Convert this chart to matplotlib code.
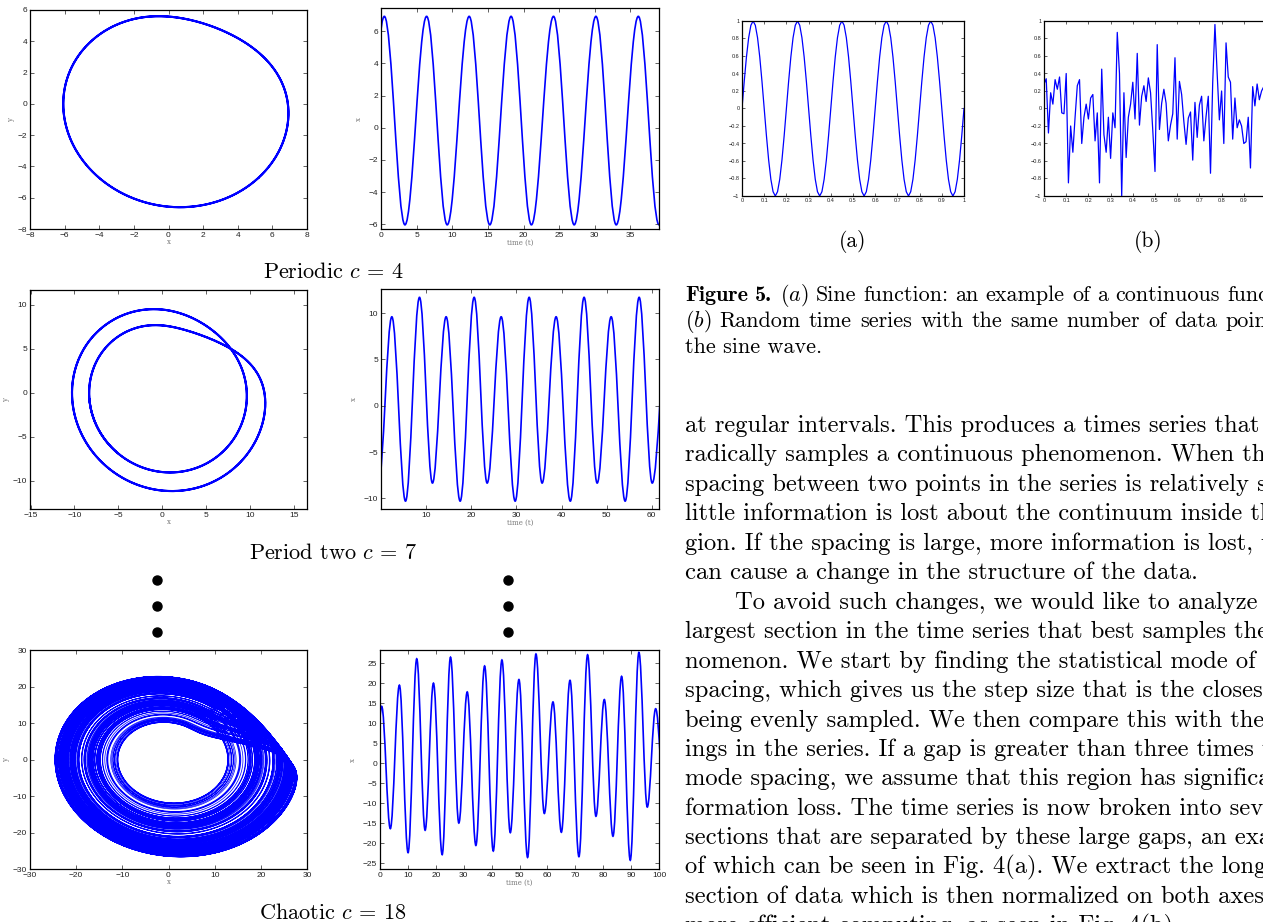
import numpy as np
import matplotlib
matplotlib.use("Agg")
import matplotlib.pyplot as plt
from matplotlib.path import Path
from matplotlib.patches import PathPatch

# ------------------------------------------------------------------ data
ROSSLER_A = 0.1
ROSSLER_B = 0.1
C_VALUES = [4, 7, 18]                 # periodic, period two, chaotic
PHASE_RECORD_T = [12.0, 25.0, 900.0]   # length of trajectory shown in xy plots

# time-series extrema (time, x)
ts1_t = [-2.5, 0.47, 3.36, 6.4, 9.29, 12.37, 15.26, 18.25, 21.1, 24.2, 27.1,
         30.15, 33.0, 36.1, 39.0, 42.0]
ts1_x = [-6.04, 6.93, -6.04, 6.93, -6.04, 6.93, -6.04, 6.93, -6.04, 6.93,
         -6.04, 6.93, -6.04, 6.93, -6.04, 6.93]

ts2_t = [-0.55, 2.4, 5.43, 8.53, 11.4, 14.43, 17.54, 20.64, 23.52, 26.63, 29.73,
         32.83, 35.7, 38.8, 41.95, 45.0, 47.9, 51.0, 54.1, 57.2, 60.1, 63.6]
ts2_x = [-8.35, 9.6, -10.3, 11.7, -8.35, 9.6, -10.3, 11.7, -8.35, 9.6, -10.3,
         11.7, -8.35, 9.6, -10.3, 11.7, -8.35, 9.6, -10.3, 11.7, -8.35, 9.6]

ts3_t = [-2.4, 0.6, 3.7, 6.95, 10.06, 13.17, 16.17, 19.16, 22.28, 25.27, 28.26,
         31.26, 34.37, 37.49, 40.6, 43.7, 46.7, 49.8, 52.9, 55.9, 58.9, 62.0,
         65.0, 68.1, 71.3, 74.4, 77.4, 80.4, 83.5, 86.6, 89.7, 92.8, 95.8, 98.8,
         102.2]
ts3_x = [-14.0, 14.2, -16.4, 19.5, -22.4, 26.1, -16.8, 20.0, -22.9, 26.5, -15.0,
         17.8, -20.6, 24.3, -22.0, 25.8, -17.4, 20.9, -23.6, 27.3, -12.6, 15.3,
         -17.3, 20.7, -23.4, 27.1, -13.3, 15.9, -18.3, 21.7, -24.3, 27.7, -11.0,
         13.6, -12.0]

# Figure 5 panels: 101 samples on [0, 1]
sample_x = [i / 100 for i in range(101)]
sine_y = [0.0, 0.309, 0.588, 0.809, 0.951, 1.0, 0.951, 0.809, 0.588, 0.309,
          0.0, -0.309, -0.588, -0.809, -0.951, -1.0, -0.951, -0.809, -0.588, -0.309,
          0.0, 0.309, 0.588, 0.809, 0.951, 1.0, 0.951, 0.809, 0.588, 0.309,
          0.0, -0.309, -0.588, -0.809, -0.951, -1.0, -0.951, -0.809, -0.588, -0.309,
          0.0, 0.309, 0.588, 0.809, 0.951, 1.0, 0.951, 0.809, 0.588, 0.309,
          0.0, -0.309, -0.588, -0.809, -0.951, -1.0, -0.951, -0.809, -0.588, -0.309,
          0.0, 0.309, 0.588, 0.809, 0.951, 1.0, 0.951, 0.809, 0.588, 0.309,
          0.0, -0.309, -0.588, -0.809, -0.951, -1.0, -0.951, -0.809, -0.588, -0.309,
          0.0, 0.309, 0.588, 0.809, 0.951, 1.0, 0.951, 0.809, 0.588, 0.309,
          0.0, -0.309, -0.588, -0.809, -0.951, -1.0, -0.951, -0.809, -0.588, -0.309,
          0.0]
random_y = [0.28, 0.34, -0.28, 0.18, 0.05, 0.33, 0.22, 0.36, -0.05, -0.06,
            0.40, -0.85, -0.20, -0.50, -0.10, 0.26, 0.33, -0.40, -0.10, 0.05,
            -0.12, 0.12, 0.16, -0.37, -0.05, -0.85, 0.45, -0.30, -0.50, -0.10,
            -0.57, -0.05, -0.22, 0.87, 0.40, -1.00, 0.18, -0.56, -0.10, 0.05,
            0.30, -0.12, 0.63, -0.19, 0.14, 0.26, 0.08, 0.35, 0.18, -0.25,
            -0.72, 0.73, -0.24, 0.06, 0.22, 0.06, -0.37, -0.19, -0.06, 0.58,
            -0.35, 0.31, 0.16, -0.15, -0.41, -0.11, -0.04, -0.59, 0.07, -0.33,
            0.04, 0.14, -0.37, -0.09, 0.14, -0.74, 0.30, 0.96, 0.40, -0.13,
            0.20, -0.40, 0.75, 0.36, 0.30, -0.35, 0.12, -0.22, -0.13, -0.20,
            -0.40, -0.38, -0.10, -0.68, 0.25, 0.03, 0.28, 0.10, 0.20, 0.25,
            0.05]

row_titles = [r"Periodic $c$ = 4", r"Period two $c$ = 7", r"Chaotic $c$ = 18"]

caption_lines = [
    "Figure 5. $(a)$ Sine function: an example of a continuous function.",
    "$(b)$ Random time series with the same number of data points as",
    "the sine wave.",
]
caption_justify = [True, True, False]
body_lines = [
    "at regular intervals. This produces a times series that",
    "radically samples a continuous phenomenon. When the",
    "spacing between two points in the series is relatively small,",
    "little information is lost about the continuum inside that re-",
    "gion. If the spacing is large, more information is lost, which",
    "can cause a change in the structure of the data.",
    "To avoid such changes, we would like to analyze the",
    "largest section in the time series that best samples the phe-",
    "nomenon. We start by finding the statistical mode of the",
    "spacing, which gives us the step size that is the closest to",
    "being evenly sampled. We then compare this with the spac-",
    "ings in the series. If a gap is greater than three times the",
    "mode spacing, we assume that this region has significant in-",
    "formation loss. The time series is now broken into several",
    "sections that are separated by these large gaps, an example",
    "of which can be seen in Fig. 4(a). We extract the longest",
    "section of data which is then normalized on both axes for",
    "more efficient computing, as seen in Fig. 4(b).",
]

# ------------------------------------------------------------------ helpers
W, H = 1263, 922
plt.rcParams["mathtext.fontset"] = "cm"
BLUE = "#0000ff"
TICKFONT = "Liberation Sans"


def rossler_xy(c, t_keep, t_skip=300.0, dt=0.005):
    a, b = ROSSLER_A, ROSSLER_B
    x, y, z = 1.0, 1.0, 0.0

    def f(x, y, z):
        return (-y - z, x + a * y, b + z * (x - c))

    n_skip = int(t_skip / dt)
    n_keep = int(t_keep / dt)
    xs, ys = [], []
    h = dt
    for i in range(n_skip + n_keep):
        k1 = f(x, y, z)
        k2 = f(x + h / 2 * k1[0], y + h / 2 * k1[1], z + h / 2 * k1[2])
        k3 = f(x + h / 2 * k2[0], y + h / 2 * k2[1], z + h / 2 * k2[2])
        k4 = f(x + h * k3[0], y + h * k3[1], z + h * k3[2])
        x += h / 6 * (k1[0] + 2 * k2[0] + 2 * k3[0] + k4[0])
        y += h / 6 * (k1[1] + 2 * k2[1] + 2 * k3[1] + k4[1])
        z += h / 6 * (k1[2] + 2 * k2[2] + 2 * k3[2] + k4[2])
        if i >= n_skip:
            xs.append(x)
            ys.append(y)
    return np.array(xs), np.array(ys)


def extrema_path(ts, xs):
    verts = [(ts[0], xs[0])]
    codes = [Path.MOVETO]
    for i in range(len(ts) - 1):
        d = 0.364 * (ts[i + 1] - ts[i])
        verts += [(ts[i] + d, xs[i]), (ts[i + 1] - d, xs[i + 1]), (ts[i + 1], xs[i + 1])]
        codes += [Path.CURVE4] * 3
    return Path(verts, codes)


fig = plt.figure(figsize=(W / 100, H / 100), dpi=100)


def px_axes(l, t, r, b):
    return fig.add_axes([l / W, 1 - b / H, (r - l) / W, (b - t) / H])


def style(ax, size=6.0, pad=2.2):
    ax.tick_params(direction="in", top=True, right=True, length=2.6, width=0.5,
                   labelsize=size, pad=pad, colors="#222222")
    for lab in ax.get_xticklabels() + ax.get_yticklabels():
        lab.set_fontfamily(TICKFONT)
    for s in ax.spines.values():
        s.set_linewidth(0.9)


# ------------------------------------------------------------------ rows
phase_boxes = [(30, 10, 307, 229), (30, 290, 307, 509), (30, 650, 307, 869)]
time_boxes = [(381, 8, 659, 229), (381, 289, 659, 509), (380, 650, 659, 869)]
phase_lims = [((-8, 8), (-8, 6)), ((-15.07, 16.5), (-13.2, 11.7)), ((-30, 30), (-30, 30))]
phase_ticks = [(range(-8, 9, 2), range(-8, 7, 2)), (range(-15, 16, 5), range(-10, 11, 5)),
               (range(-30, 31, 10), range(-30, 31, 10))]
time_lims = [((0, 39.0), (-6.3, 7.45)), ((0, 61.6), (-11.15, 12.6)), ((0, 100), (-26.5, 28.3))]
time_ticks = [(range(0, 36, 5), range(-6, 7, 2)), (range(10, 61, 10), range(-10, 11, 5)),
              (range(0, 101, 10), range(-25, 26, 5))]
series = [(ts1_t, ts1_x), (ts2_t, ts2_x), (ts3_t, ts3_x)]
phase_lw = [1.5, 1.5, 0.5]

for r in range(3):
    ax = px_axes(*phase_boxes[r])
    px, py = rossler_xy(C_VALUES[r], PHASE_RECORD_T[r])
    ax.plot(px, py, color=BLUE, lw=phase_lw[r])
    ax.set_xlim(*phase_lims[r][0])
    ax.set_ylim(*phase_lims[r][1])
    ax.set_xticks(list(phase_ticks[r][0]))
    ax.set_yticks(list(phase_ticks[r][1]))
    style(ax)
    ax.set_xlabel("x", fontsize=5, color="#777777", family="DejaVu Serif", labelpad=-1)
    ax.set_ylabel("y", fontsize=5, color="#777777", family="DejaVu Serif", labelpad=2)

    ax2 = px_axes(*time_boxes[r])
    ax2.add_patch(PathPatch(extrema_path(*series[r]), fill=False, ec=BLUE, lw=1.2))
    ax2.set_xlim(*time_lims[r][0])
    ax2.set_ylim(*time_lims[r][1])
    ax2.set_xticks(list(time_ticks[r][0]))
    ax2.set_yticks(list(time_ticks[r][1]))
    style(ax2)
    ax2.set_xlabel("time (t)", fontsize=5, color="#777777", family="DejaVu Serif", labelpad=0)
    ax2.set_ylabel("x", fontsize=5, color="#777777", family="DejaVu Serif", labelpad=4)

# ------------------------------------------------------------------ Figure 5 panels
axa = px_axes(742, 21, 964, 196)
axa.plot(sample_x, sine_y, color=BLUE, lw=0.9)
axb = px_axes(1044, 21, 1266, 196)
axb.plot(sample_x, random_y, color=BLUE, lw=0.9)
for ax in (axa, axb):
    ax.set_xlim(0, 1)
    ax.set_ylim(-1, 1)
    ax.set_xticks(np.round(np.arange(0, 1.01, 0.1), 1))
    ax.set_yticks(np.round(np.arange(-1, 1.01, 0.2), 1))
    ax.set_xticklabels(["0", "0.1", "0.2", "0.3", "0.4", "0.5", "0.6", "0.7", "0.8", "0.9", "1"])
    ax.set_yticklabels(["\u22121", "\u22120.8", "\u22120.6", "\u22120.4", "\u22120.2", "0",
                        "0.2", "0.4", "0.6", "0.8", "1"])
    style(ax, size=4.0, pad=1.8)
    ax.tick_params(length=2)

# ------------------------------------------------------------------ overlay text
ov = fig.add_axes([0, 0, 1, 1], zorder=-1)
ov.set_xlim(0, W)
ov.set_ylim(H, 0)
ov.axis("off")
renderer = fig.canvas.get_renderer()

TITLE = dict(family="cmr10", fontsize=16.0, color="black")
LABEL = dict(family="cmr10", fontsize=15.5, color="black")
BODY = dict(family="cmr10", fontsize=17.7, color="black")
CAP = dict(family="cmr10", fontsize=15.9, color="black")
CAPB = dict(family="cmb10", fontsize=15.9, color="black")
CAP_RIGHT = 1312


def measure(s, props):
    t = ov.text(0, 0, s, **props)
    w = t.get_window_extent(renderer=renderer).width
    t.remove()
    return w


def draw_justified(x0, y, text, props, right, bold_words=0, bold_props=None):
    words = text.split(" ")
    wprops = [bold_props if i < bold_words else props for i in range(len(words))]
    widths = [measure(w, p) for w, p in zip(words, wprops)]
    gap = (right - x0 - sum(widths)) / (len(words) - 1)
    x = x0
    for w, p, wd in zip(words, wprops, widths):
        ov.text(x, y, w, ha="left", va="baseline", **p)
        x += wd + gap


for y, s in zip([278, 559, 919], row_titles):
    ov.text(333, y, s, ha="center", va="baseline", **TITLE)

for xc in (157, 508):
    ov.plot([xc] * 3, [580, 606, 632], "o", color="black", ms=6.5)

ov.text(853, 247, "(a)", ha="center", va="baseline", **LABEL)
ov.text(1148, 247, "(b)", ha="center", va="baseline", **LABEL)

for i, s in enumerate(caption_lines):
    y = 301 + 26 * i
    if caption_justify[i]:
        draw_justified(685, y, s, CAP, CAP_RIGHT,
                       bold_words=2 if i == 0 else 0, bold_props=CAPB)
    else:
        ov.text(685, y, s, ha="left", va="baseline", **CAP)

for i, s in enumerate(body_lines):
    x0 = 735 if i == 6 else 685
    ov.text(x0, 432 + 29.45 * i, s, ha="left", va="baseline", **BODY)

fig.savefig("out.png", dpi=100)
